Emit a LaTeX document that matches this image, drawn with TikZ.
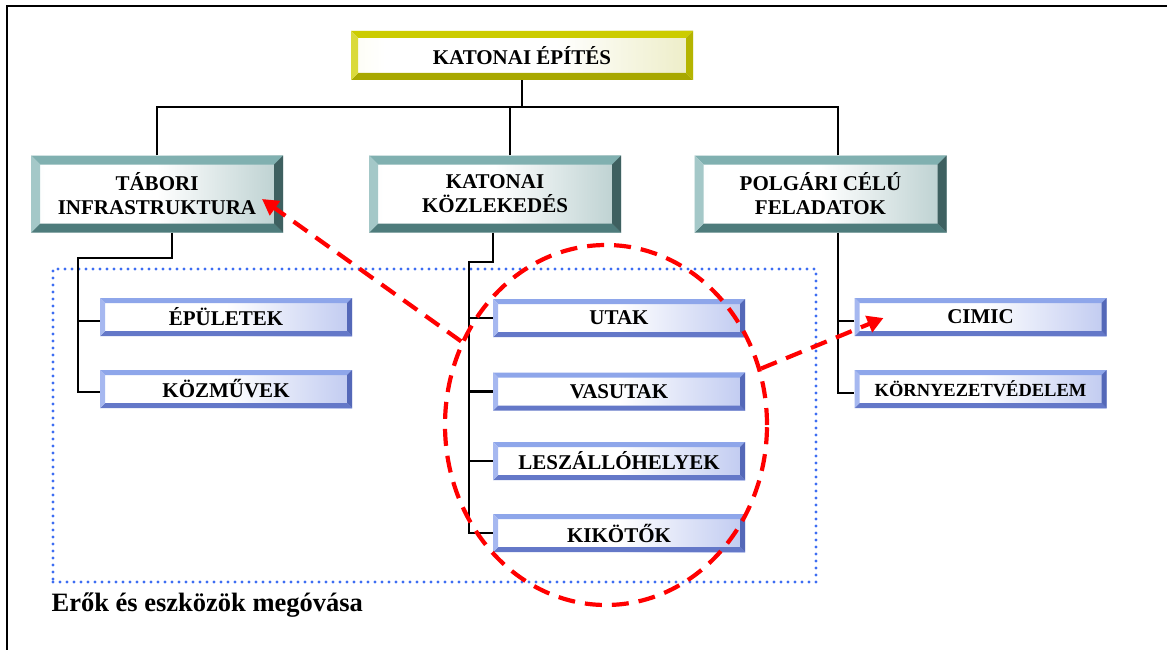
\documentclass[tikz,border=0pt]{standalone}
\usepackage{fontspec}
\setmainfont{Liberation Serif}
\usetikzlibrary{shapes.geometric}
\usetikzlibrary{arrows.meta}

\definecolor{yT}{HTML}{CCCC00}
\definecolor{yL}{HTML}{DADA3A}
\definecolor{yD}{HTML}{A8A800}
\definecolor{yR}{HTML}{B4B400}
\definecolor{yA}{HTML}{F0F0C0}
\definecolor{yB}{HTML}{D6D680}
\definecolor{tT}{HTML}{80B0B0}
\definecolor{tL}{HTML}{A4C8C8}
\definecolor{tD}{HTML}{4E7C7C}
\definecolor{tR}{HTML}{3E6060}
\definecolor{tA}{HTML}{D0E2E2}
\definecolor{tB}{HTML}{76A0A0}
\definecolor{bT}{HTML}{8EA6EA}
\definecolor{bL}{HTML}{A6B8F0}
\definecolor{bD}{HTML}{6478C8}
\definecolor{bR}{HTML}{5468B8}
\definecolor{bA}{HTML}{C0CCF4}
\definecolor{bB}{HTML}{8296E2}
\definecolor{dotblue}{HTML}{3D6DF2}

\pgfdeclarehorizontalshading{yface}{100bp}{color(0bp)=(yA); color(30bp)=(white); color(55bp)=(white); color(100bp)=(yB)}
\pgfdeclarehorizontalshading{tface}{100bp}{color(0bp)=(tA); color(28bp)=(white); color(50bp)=(white); color(100bp)=(tB)}
\pgfdeclarehorizontalshading{bface}{100bp}{color(0bp)=(bA); color(25bp)=(white); color(50bp)=(white); color(100bp)=(bB)}

% bevelled frame: width, top, left, bottom, right
\newcommand{\bevelframe}[5]{%
  \path (path picture bounding box.north west) coordinate (nw)
        (path picture bounding box.north east) coordinate (ne)
        (path picture bounding box.south west) coordinate (sw)
        (path picture bounding box.south east) coordinate (se);
  \fill[#2] (nw) -- (ne) -- ([shift={(-#1pt,-#1pt)}]ne) -- ([shift={(#1pt,-#1pt)}]nw) -- cycle;
  \fill[#4] (sw) -- (se) -- ([shift={(-#1pt,#1pt)}]se) -- ([shift={(#1pt,#1pt)}]sw) -- cycle;
  \fill[#3] (nw) -- (sw) -- ([shift={(#1pt,#1pt)}]sw) -- ([shift={(#1pt,-#1pt)}]nw) -- cycle;
  \fill[#5] (ne) -- (se) -- ([shift={(-#1pt,#1pt)}]se) -- ([shift={(-#1pt,-#1pt)}]ne) -- cycle;
}

\tikzset{
  box/.style={rectangle, inner sep=0pt, align=center, shade,
    font=\bfseries\fontsize{21}{24}\selectfont},
  headbox/.style={box, shading=yface, minimum width=342pt, minimum height=49pt,
    path picture={\bevelframe{7}{yT}{yL}{yD}{yR}}},
  groupbox/.style={box, shading=tface, minimum width=252pt, minimum height=77pt,
    path picture={\bevelframe{9}{tT}{tL}{tD}{tR}}},
  itembox/.style={box, shading=bface, minimum width=252pt, minimum height=38pt,
    path picture={\bevelframe{5}{bT}{bL}{bD}{bR}}},
  link/.style={line width=2.2pt, black},
  zone/.style={draw=dotblue, line width=3.2pt, line cap=round,
    dash pattern=on 0pt off 7pt},
  redline/.style={draw=red, line width=4.2pt, dash pattern=on 17pt off 10pt},
  redarrow/.style={redline, -{Triangle[length=16pt,width=17pt]}}
}

\begin{document}
\begin{tikzpicture}[x=1pt, y=-1pt]
  \useasboundingbox (0,0) rectangle (1167,650);
  \draw[line width=2.2pt] (1167,6) -- (7,6) -- (7,650);

  % region of protected forces
  \node[zone, rectangle, minimum width=763pt, minimum height=313pt] (zona) at (434.5,425.5) {};
  \node[anchor=base west, inner sep=0pt, font=\bfseries\fontsize{26.5}{30}\selectfont]
    (vedo) at ([yshift=-28pt]zona.south west) {Erők és eszközök megóvása};

  % boxes
  \node[headbox] (ke) at (522,55.5) {KATONAI ÉPÍTÉS};
  \node[groupbox] (tab) at (157,194) {TÁBORI\\INFRASTRUKTURA};
  \node[groupbox] (koz) at (495,194) {KATONAI\\KÖZLEKEDÉS};
  \node[groupbox] (pol) at (820.5,194) {POLGÁRI CÉLÚ\\FELADATOK};

  \node[itembox] (epu) at (226,317) {ÉPÜLETEK};
  \node[itembox] (kozm) at (226,389) {KÖZMŰVEK};
  \node[itembox] (utak) at (619,318) {UTAK};
  \node[itembox] (vas) at (619,391.5) {VASUTAK};
  \node[itembox] (lesz) at (619,461) {LESZÁLLÓHELYEK};
  \node[itembox] (kik) at (619,533) {KIKÖTŐK};
  \node[itembox] (cim) at (980.5,317) {CIMIC};
  \node[itembox, font=\bfseries\fontsize{18.5}{22}\selectfont] (korny) at (980.5,389) {KÖRNYEZETVÉDELEM};

  % tree lines
  \coordinate (bus) at (522,107);
  \draw[link] (ke.south) -- (bus);
  \draw[link] (tab.north) |- (bus);
  \draw[link] ([xshift=15pt]koz.north) |- (bus);
  \draw[link] ([xshift=17.5pt]pol.north) |- (bus);

  \draw[link] ([xshift=15pt]tab.south) -- ++(0,25) -| ([shift={(-22pt,-3pt)}]kozm.west) -- ([yshift=-3pt]kozm.west);
  \draw[link] ([yshift=-4pt]epu.west) -- ++(-22,0);

  \draw[link] ([xshift=-2pt]koz.south) -- ++(0,29) -| ([xshift=-24pt]kik.west) -- (kik.west);
  \foreach \n in {utak, vas, lesz}
    \draw[link] (\n.west) -- ++(-24,0);

  \draw[link] ([xshift=17.5pt]pol.south) |- ([yshift=-4pt]korny.west);
  \draw[link] ([yshift=-4pt]cim.west) -- ++(-16.5,0);

  % red highlight
  \node[ellipse, redline, minimum width=322pt, minimum height=360pt, inner sep=0pt] (ell) at (606,425) {};
  \draw[redarrow] (ell.150) -- ([shift={(105,5)}]tab.center);
  \draw[redarrow] (ell.20) -- ([shift={(-97,1)}]cim.center);
\end{tikzpicture}
\end{document}
